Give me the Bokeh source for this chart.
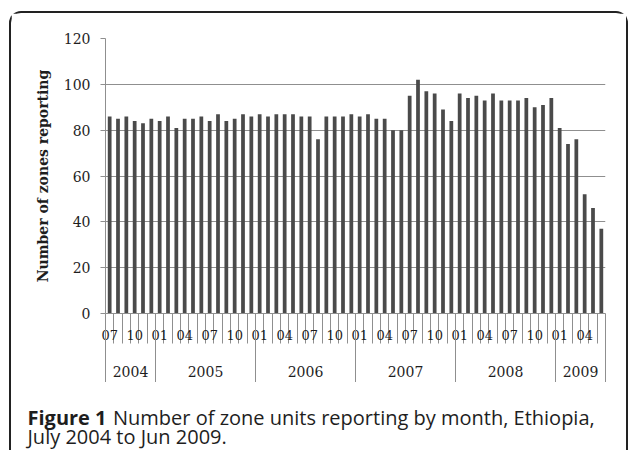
from bokeh.plotting import figure
from bokeh.layouts import column
from bokeh.models import Range1d, FixedTicker, LinearAxis, ColumnDataSource
from bokeh.core.properties import value
from bokeh.embed import file_html
from bokeh.resources import INLINE

# Monthly number of zones reporting, July 2004 .. June 2009
values = [86, 85, 86, 84, 83, 85,                          # 2004 Jul-Dec
          84, 86, 81, 85, 85, 86, 84, 87, 84, 85, 87, 86,  # 2005
          87, 86, 87, 87, 87, 86, 86, 76, 86, 86, 86, 87,  # 2006
          86, 87, 85, 85, 80, 80, 95, 102, 97, 96, 89, 84, # 2007
          96, 94, 95, 93, 96, 93, 93, 93, 94, 90, 91, 94,  # 2008
          81, 74, 76, 52, 46, 37]                          # 2009 Jan-Jun
month_index = list(range(len(values)))
month_tick_index = list(range(0, 60, 3))
month_tick_labels = ["07", "10", "01", "04"] * 5
month_boundaries = [i - 0.5 for i in range(61)]
years = ["2004", "2005", "2006", "2007", "2008", "2009"]
year_centers = [2.5, 11.5, 23.5, 35.5, 47.5, 56.5]
year_boundaries = [-0.5, 5.5, 17.5, 29.5, 41.5, 53.5, 59.5]
y_ticks = [0, 20, 40, 60, 80, 100, 120]
caption_bold = "Figure 1"
caption_line1 = "Number of zone units reporting by month, Ethiopia,"
caption_line2 = "July 2004 to Jun 2009."

GREY = "#8f8f8f"
TXT = "#1e1e1e"
SERIF = "DejaVu Serif"

p = figure(width=615, height=369, output_backend="svg", toolbar_location=None,
           x_range=Range1d(-0.5, 59.5), y_range=Range1d(0, 120),
           x_axis_type=None,
           min_border_left=94, min_border_right=21, min_border_top=25, min_border_bottom=69)
p.outline_line_color = None
p.background_fill_color = "white"
p.border_fill_color = "white"

src = ColumnDataSource(dict(x=month_index, y=values))
p.vbar(x="x", top="y", width=0.45, source=src, fill_color="#4a4a4a", line_color=None)

# y axis
p.yaxis.ticker = FixedTicker(ticks=y_ticks)
p.yaxis.minor_tick_line_color = None
p.yaxis.major_tick_in = 0
p.yaxis.major_tick_out = 5
p.yaxis.major_tick_line_color = GREY
p.yaxis.axis_line_color = GREY
p.yaxis.major_label_standoff = 10
p.yaxis.major_label_text_font = SERIF
p.yaxis.major_label_text_font_size = "14px"
p.yaxis.major_label_text_color = TXT
p.yaxis.axis_label = "Number of zones reporting"
p.yaxis.axis_label_text_font = SERIF
p.yaxis.axis_label_text_font_style = "bold"
p.yaxis.axis_label_text_font_size = "14px"
p.yaxis.axis_label_text_color = TXT
p.yaxis.axis_label_standoff = 10
p.ygrid.ticker = FixedTicker(ticks=y_ticks)
p.ygrid.grid_line_color = GREY
p.ygrid.grid_line_width = 1

# month axis
xa1 = LinearAxis(
    ticker=FixedTicker(ticks=month_tick_index, minor_ticks=month_boundaries),
    major_label_overrides={i: lab for i, lab in zip(month_tick_index, month_tick_labels)},
    major_tick_in=0, major_tick_out=0, major_tick_line_color=None,
    minor_tick_in=0, minor_tick_out=30, minor_tick_line_color=GREY,
    axis_line_color=GREY, major_label_standoff=-14,
    major_label_text_font=SERIF, major_label_text_font_size="13px",
    major_label_text_color=TXT)
p.add_layout(xa1, "below")

# year axis
xa2 = LinearAxis(
    ticker=FixedTicker(ticks=year_centers, minor_ticks=year_boundaries),
    major_label_overrides={c: y for c, y in zip(year_centers, years)},
    major_tick_in=0, major_tick_out=0, major_tick_line_color=None,
    minor_tick_in=28, minor_tick_out=40, minor_tick_line_color=GREY,
    axis_line_color=None, major_label_standoff=-17,
    major_label_text_font=SERIF, major_label_text_font_size="14px",
    major_label_text_color=TXT)
p.add_layout(xa2, "below")

# caption
cap = figure(width=615, height=68, output_backend="svg", toolbar_location=None,
             x_range=Range1d(0, 615), y_range=Range1d(68, 0),
             x_axis_type=None, y_axis_type=None,
             min_border_left=0, min_border_right=0, min_border_top=0, min_border_bottom=0)
cap.outline_line_color = None
cap.background_fill_color = "white"
cap.border_fill_color = "white"
cap.xgrid.visible = False
cap.ygrid.visible = False
cap.text(x=[16], y=[34.5], text=[caption_bold], text_font=value("Open Sans"),
         text_font_style="bold", text_font_size="20px", text_color=TXT,
         text_baseline="alphabetic", text_align="left")
cap.text(x=[101.5, 16], y=[34.5, 53.5], text=[caption_line1, caption_line2],
         text_font=value("Open Sans"), text_font_size="20px", text_color=TXT,
         text_baseline="alphabetic", text_align="left")

# keep the caption's frame independent of the chart's frame
for fig in (p, cap):
    if "frame_align" in fig.properties():
        fig.frame_align = False

layout = column(p, cap, margin=(11, 0, 0, 9),
                styles={"border-left": "2px solid #222222",
                        "border-top": "2px solid #222222",
                        "border-right": "2px solid #222222",
                        "border-top-left-radius": "12px",
                        "border-top-right-radius": "12px"})

open("out.html", "w").write(file_html(layout, INLINE))
